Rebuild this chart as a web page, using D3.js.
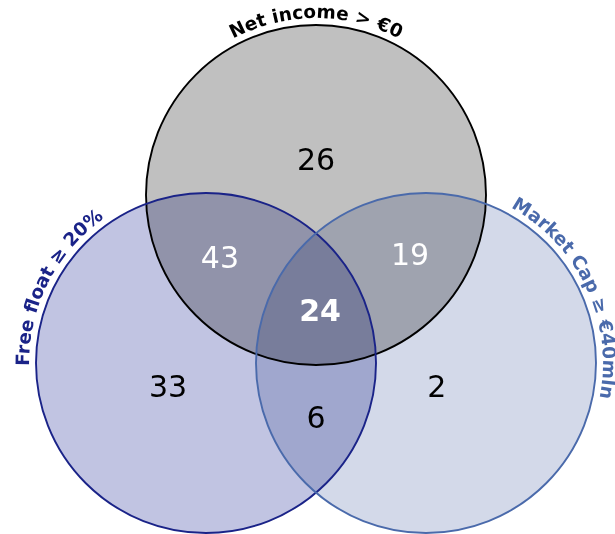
<!DOCTYPE html>
<html><head><meta charset="utf-8">
<script src="https://cdn.jsdelivr.net/npm/d3@7"></script>
<style>html,body{margin:0;padding:0;background:#fff;}svg{display:block;}</style>
</head><body>
<svg id="chart" width="615" height="534"></svg>
<script>
// ---- data ----
const setNames = ["Net income > €0", "Free float ≥ 20%", "Market Cap ≥ €40mln"];
const setFills = ["#c0c0c0", "#c1c4e2", "#d3d9e9"];
const setStrokes = ["#000000", "#1a2388", "#4a6aab"];
const setLabelColors = ["#000000", "#1a2388", "#4a6aab"];
// region membership & counts
const regionSets = [["N"], ["F"], ["M"], ["N","F"], ["N","M"], ["F","M"], ["N","F","M"]];
const regionValues = [26, 33, 2, 43, 19, 6, 24];

// ---- layout (unit geometry) ----
const setKeys = ["N","F","M"];
const unitCenters = { N: [0, -0.988], F: [-0.647, 0], M: [0.647, 0] };
const unitR = 1;
const x = d3.scaleLinear().domain([0, 1]).range([316, 486]);
const y = d3.scaleLinear().domain([0, 1]).range([363, 533]);
const rPx = x(unitR) - x(0);
const regionUnit = {
  "N": [0, -1.20], "F": [-0.87, 0.14], "M": [0.71, 0.14],
  "N,F": [-0.565, -0.62], "N,M": [0.553, -0.64], "F,M": [0.0, 0.32],
  "N,F,M": [0.024, -0.31]
};
const labelAngle = { N: -90, F: -153, M: -25 };
const labelOffset = { N: 7, F: 7, M: 7 };

const svg = d3.select("#chart");
svg.append("rect").attr("width", 615).attr("height", 534).attr("fill", "#fff");

const fills = svg.append("g").style("isolation", "isolate");
setKeys.forEach((k, i) => {
  fills.append("circle")
    .attr("cx", x(unitCenters[k][0])).attr("cy", y(unitCenters[k][1])).attr("r", rPx)
    .attr("fill", setFills[i]).style("mix-blend-mode", "multiply");
});
const strokes = svg.append("g");
setKeys.forEach((k, i) => {
  strokes.append("circle")
    .attr("cx", x(unitCenters[k][0])).attr("cy", y(unitCenters[k][1])).attr("r", rPx)
    .attr("fill", "none").attr("stroke", setStrokes[i]).attr("stroke-width", 1.9);
});

// set labels along arcs
const defs = svg.append("defs");
setKeys.forEach((k, i) => {
  const cx = x(unitCenters[k][0]), cy = y(unitCenters[k][1]);
  const R = rPx + labelOffset[k];
  const t = labelAngle[k] * Math.PI / 180;
  const a0 = t - Math.PI * 0.45, a1 = t + Math.PI * 0.45;
  const p = `M${cx + R * Math.cos(a0)},${cy + R * Math.sin(a0)} A${R},${R} 0 0 1 ${cx + R * Math.cos(a1)},${cy + R * Math.sin(a1)}`;
  defs.append("path").attr("id", "arc" + k).attr("d", p);
  svg.append("text")
    .attr("font-family", "DejaVu Sans, Verdana, sans-serif")
    .attr("font-size", 18.5).attr("font-weight", "bold")
    .attr("fill", setLabelColors[i])
    .append("textPath").attr("href", "#arc" + k)
    .attr("startOffset", "50%").attr("text-anchor", "middle")
    .text(setNames[i]);
});

// region counts
regionSets.forEach((s, i) => {
  const key = s.join(",");
  const pos = regionUnit[key];
  const dark = s.length >= 2 && s.includes("N");
  svg.append("text")
    .attr("x", x(pos[0])).attr("y", y(pos[1]))
    .attr("text-anchor", "middle").attr("dominant-baseline", "central")
    .attr("font-family", "DejaVu Sans, Verdana, sans-serif")
    .attr("font-size", 30)
    .attr("font-weight", s.length === 3 ? "bold" : "normal")
    .attr("fill", dark ? "#ffffff" : "#000000")
    .text(regionValues[i]);
});
</script>
</body></html>
